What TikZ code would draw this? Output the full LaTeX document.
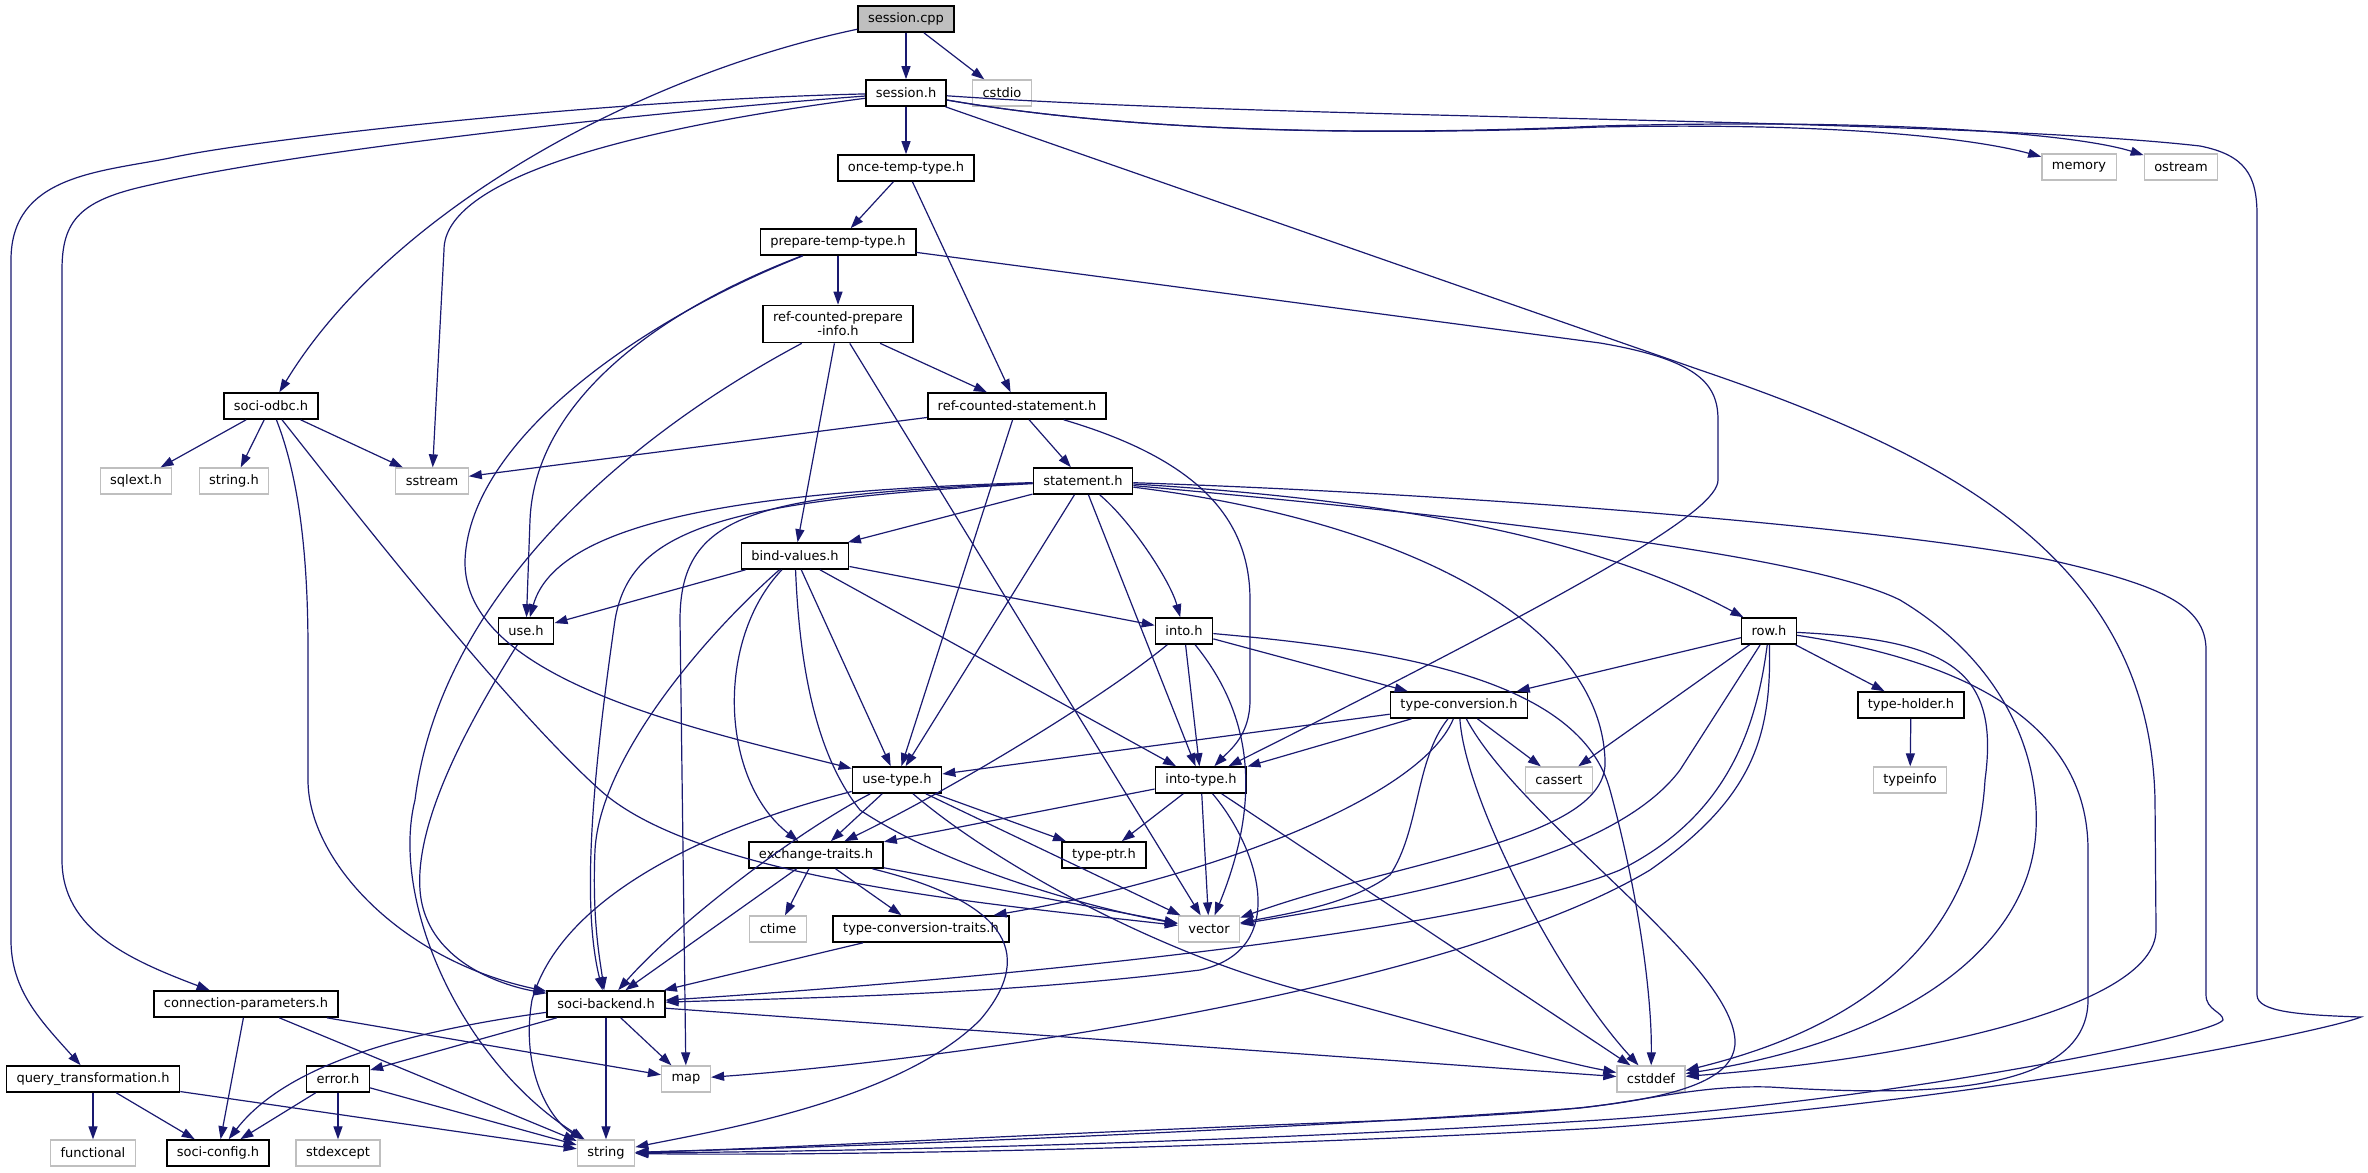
\documentclass[tikz,border=0pt]{standalone}
\usepackage{fontspec}
\setmainfont{DejaVu Sans}
\usetikzlibrary{arrows.meta}
\definecolor{depblue}{RGB}{25,25,112}
\definecolor{extgray}{RGB}{191,191,191}
\begin{document}
\begin{tikzpicture}[x=1pt,y=-1pt,
    hdr/.style={draw=black,line width=1.6pt,fill=white,minimum height=26pt,inner xsep=10pt,inner ysep=6.5pt,align=center,font=\fontsize{13pt}{14pt}\selectfont},
    sys/.style={hdr,draw=extgray,line width=1.3pt},
    dep/.style={draw=depblue,line width=1.2pt,-{Triangle[length=13pt,width=9pt]}}]
    \useasboundingbox (0,0) rectangle (2368,1172);

    \node[hdr,fill=extgray] (sessioncpp) at (906,19) {session.cpp};
    \node[hdr] (sessionh) at (906,93) {session.h};
    \node[sys] (cstdio) at (1002,93) {cstdio};
    \node[sys] (memory) at (2079,167) {memory};
    \node[sys] (ostream) at (2181,167) {ostream};
    \node[hdr] (oncetemp) at (906,168) {once-temp-type.h};
    \node[hdr] (preptemp) at (838,242) {prepare-temp-type.h};
    \node[hdr] (rcprepare) at (838,324) {ref-counted-prepare\\-info.h};
    \node[hdr] (sociodbc) at (271,406) {soci-odbc.h};
    \node[hdr] (rcstmt) at (1017,406) {ref-counted-statement.h};
    \node[sys] (sqlext) at (136,481) {sqlext.h};
    \node[sys] (stringh) at (234,481) {string.h};
    \node[sys] (sstream) at (432,481) {sstream};
    \node[hdr] (statement) at (1083,481) {statement.h};
    \node[hdr] (bindvalues) at (795,556) {bind-values.h};
    \node[hdr] (useh) at (526,631) {use.h};
    \node[hdr] (intoh) at (1184,631) {into.h};
    \node[hdr] (rowh) at (1769,631) {row.h};
    \node[hdr] (typeconv) at (1459,705) {type-conversion.h};
    \node[hdr] (typeholder) at (1911,705) {type-holder.h};
    \node[hdr] (usetype) at (897,780) {use-type.h};
    \node[hdr] (intotype) at (1201,780) {into-type.h};
    \node[sys] (cassert) at (1559,780) {cassert};
    \node[sys] (typeinfo) at (1910,780) {typeinfo};
    \node[hdr] (exchtraits) at (816,855) {exchange-traits.h};
    \node[hdr] (typeptr) at (1104,855) {type-ptr.h};
    \node[sys] (ctime) at (778,929) {ctime};
    \node[hdr] (convtraits) at (921,929) {type-conversion-traits.h};
    \node[sys] (vector) at (1209,929) {vector};
    \node[hdr] (connparams) at (246,1004) {connection-parameters.h};
    \node[hdr] (backend) at (606,1004) {soci-backend.h};
    \node[hdr] (querytrans) at (93,1079) {query\_transformation.h};
    \node[hdr] (errorh) at (338,1079) {error.h};
    \node[sys] (map) at (686,1079) {map};
    \node[sys] (cstddef) at (1651,1079) {cstddef};
    \node[sys] (functional) at (93,1153) {functional};
    \node[hdr] (sociconfig) at (218,1153) {soci-config.h};
    \node[sys] (stdexcept) at (338,1153) {stdexcept};
    \node[sys] (string) at (606,1153) {string};

    \draw[dep] (sessioncpp) -- (sessionh);
    \draw[dep] (sessioncpp) -- (cstdio);
    \draw[dep] (sessioncpp) .. controls (640,75) and (390,210) .. (sociodbc);

    \draw[dep] (sessionh) -- (oncetemp);
    \draw[dep] (sessionh) .. controls (1150,135) and (1400,135) .. (1600,127) .. controls (1850,122) and (1980,140) .. (memory);
    \draw[dep] (sessionh) .. controls (1150,135) and (1400,135) .. (1600,126) .. controls (1900,118) and (2080,135) .. (ostream);
    \draw[dep] (sessionh) .. controls (1300,120) and (1950,118) .. (2200,146) .. controls (2245,155) and (2257,175) .. (2257,215) -- (2257,995) .. controls (2257,1012) and (2300,1015) .. (2361,1017) .. controls (2330,1030) and (2000,1100) .. (1600,1128) .. controls (1200,1150) and (800,1156) .. (string);
    \draw[dep] (sessionh) -- (1700,370) .. controls (1950,455) and (2150,560) .. (2155,800) -- (2156,930) .. controls (2156,1010) and (1900,1060) .. (cstddef);
    \draw[dep] (sessionh) .. controls (620,130) and (444,180) .. (444,250) -- (sstream);
    \draw[dep] (sessionh) .. controls (650,112) and (300,150) .. (150,185) .. controls (80,200) and (62,220) .. (62,270) -- (62,860) .. controls (62,930) and (130,960) .. (connparams);
    \draw[dep] (sessionh) .. controls (600,100) and (250,140) .. (170,158) .. controls (100,172) and (11,175) .. (11,260) -- (11,940) .. controls (11,990) and (40,1020) .. (querytrans);

    \draw[dep] (oncetemp) -- (preptemp);
    \draw[dep] (oncetemp) -- (rcstmt);

    \draw[dep] (preptemp) -- (rcprepare);
    \draw[dep] (preptemp) .. controls (660,310) and (535,400) .. (530,520) -- (useh);
    \draw[dep] (preptemp) .. controls (640,320) and (470,440) .. (465,560) .. controls (462,680) and (700,730) .. (usetype);
    \draw[dep] (preptemp) -- (1600,343) .. controls (1700,360) and (1718,385) .. (1718,420) -- (1718,480) .. controls (1718,510) and (1600,580) .. (intotype);

    \draw[dep] (rcprepare) -- (rcstmt);
    \draw[dep] (rcprepare) -- (bindvalues);
    \draw[dep] (rcprepare) -- (vector);
    \draw[dep] (rcprepare) .. controls (620,440) and (440,600) .. (415,800) .. controls (390,900) and (460,1060) .. (string);

    \draw[dep] (sociodbc) -- (sqlext);
    \draw[dep] (sociodbc) -- (stringh);
    \draw[dep] (sociodbc) -- (sstream);
    \draw[dep] (sociodbc) .. controls (300,480) and (308,560) .. (308,650) -- (308,780) .. controls (308,860) and (400,960) .. (backend);
    \draw[dep] (sociodbc) .. controls (330,480) and (500,700) .. (600,790) .. controls (700,880) and (1000,905) .. (vector);

    \draw[dep] (rcstmt) -- (statement);
    \draw[dep] (rcstmt) -- (sstream);
    \draw[dep] (rcstmt) -- (usetype);
    \draw[dep] (rcstmt) .. controls (1200,460) and (1250,520) .. (1250,600) -- (1250,700) .. controls (1250,735) and (1230,750) .. (intotype);

    \draw[dep] (statement) -- (bindvalues);
    \draw[dep] (statement) .. controls (800,490) and (560,510) .. (useh);
    \draw[dep] (statement) .. controls (720,500) and (630,530) .. (615,620) .. controls (595,760) and (580,900) .. (backend);
    \draw[dep] (statement) .. controls (760,495) and (680,510) .. (680,620) -- (map);
    \draw[dep] (statement) -- (usetype);
    \draw[dep] (statement) -- (intotype);
    \draw[dep] (statement) .. controls (1130,520) and (1170,580) .. (intoh);
    \draw[dep] (statement) .. controls (1400,500) and (1600,540) .. (rowh);
    \draw[dep] (statement) .. controls (1400,520) and (1600,620) .. (1605,760) .. controls (1610,840) and (1400,860) .. (vector);
    \draw[dep] (statement) .. controls (1400,510) and (1800,550) .. (1900,600) .. controls (2000,660) and (2040,750) .. (2036,830) .. controls (2030,950) and (1900,1040) .. (cstddef);
    \draw[dep] (statement) .. controls (1500,495) and (1900,530) .. (2050,560) .. controls (2160,585) and (2206,605) .. (2206,650) -- (2206,995) .. controls (2206,1010) and (2223,1012) .. (2223,1020) .. controls (2215,1035) and (1900,1100) .. (1600,1120) .. controls (1200,1145) and (800,1152) .. (string);

    \draw[dep] (bindvalues) -- (useh);
    \draw[dep] (bindvalues) -- (intoh);
    \draw[dep] (bindvalues) -- (usetype);
    \draw[dep] (bindvalues) -- (intotype);
    \draw[dep] (bindvalues) .. controls (715,640) and (720,780) .. (exchtraits);
    \draw[dep] (bindvalues) .. controls (800,680) and (820,760) .. (860,810) .. controls (950,870) and (1100,910) .. (vector);
    \draw[dep] (bindvalues) .. controls (700,640) and (600,760) .. (595,850) .. controls (592,920) and (600,960) .. (backend);

    \draw[dep] (useh) .. controls (470,720) and (415,820) .. (420,890) .. controls (425,960) and (500,985) .. (backend);

    \draw[dep] (intoh) -- (typeconv);
    \draw[dep] (intoh) -- (intotype);
    \draw[dep] (intoh) .. controls (1100,700) and (950,790) .. (exchtraits);
    \draw[dep] (intoh) .. controls (1240,700) and (1270,780) .. (vector);
    \draw[dep] (intoh) .. controls (1400,650) and (1580,680) .. (1610,790) .. controls (1640,900) and (1652,1000) .. (cstddef);

    \draw[dep] (rowh) -- (typeconv);
    \draw[dep] (rowh) -- (typeholder);
    \draw[dep] (rowh) -- (cassert);
    \draw[dep] (rowh) -- (1680,770) .. controls (1620,850) and (1450,890) .. (vector);
    \draw[dep] (rowh) .. controls (1755,740) and (1720,820) .. (1620,870) .. controls (1450,940) and (900,985) .. (backend);
    \draw[dep] (rowh) .. controls (1772,740) and (1750,800) .. (1650,870) .. controls (1450,990) and (950,1060) .. (map);
    \draw[dep] (rowh) .. controls (1950,640) and (2000,670) .. (1985,780) .. controls (1975,950) and (1850,1030) .. (cstddef);
    \draw[dep] (rowh) .. controls (1960,660) and (2088,720) .. (2088,850) -- (2088,1000) .. controls (2088,1100) and (1900,1095) .. (1770,1087) .. controls (1700,1085) and (1650,1100) .. (1580,1108) .. controls (1200,1135) and (800,1148) .. (string);

    \draw[dep] (typeconv) -- (usetype);
    \draw[dep] (typeconv) -- (intotype);
    \draw[dep] (typeconv) -- (cassert);
    \draw[dep] (typeconv) .. controls (1420,800) and (1200,880) .. ([xshift=-16pt]convtraits.north east);
    \draw[dep] (typeconv) .. controls (1415,760) and (1420,830) .. (1390,875) .. controls (1350,905) and (1280,915) .. (vector);
    \draw[dep] (typeconv) .. controls (1465,800) and (1560,980) .. (cstddef);
    \draw[dep] (typeconv) .. controls (1520,820) and (1730,960) .. (1735,1040) .. controls (1738,1100) and (1600,1110) .. (1400,1120) .. controls (1000,1135) and (800,1148) .. (string);

    \draw[dep] (typeholder) -- (typeinfo);

    \draw[dep] (usetype) -- (exchtraits);
    \draw[dep] (usetype) -- (typeptr);
    \draw[dep] (usetype) -- (vector);
    \draw[dep] (usetype) .. controls (800,830) and (680,920) .. (backend);
    \draw[dep] (usetype) .. controls (990,860) and (1150,950) .. (1300,990) .. controls (1450,1030) and (1550,1060) .. (cstddef);
    \draw[dep] (usetype) .. controls (700,830) and (560,900) .. (532,1000) .. controls (520,1070) and (550,1120) .. (string);

    \draw[dep] (intotype) -- (exchtraits);
    \draw[dep] (intotype) -- (typeptr);
    \draw[dep] (intotype) -- (vector);
    \draw[dep] (intotype) .. controls (1260,850) and (1290,950) .. (1200,970) .. controls (1000,995) and (800,998) .. (backend);
    \draw[dep] (intotype) -- (cstddef);

    \draw[dep] (exchtraits) -- (ctime);
    \draw[dep] (exchtraits) -- (convtraits);
    \draw[dep] (exchtraits) -- (vector);
    \draw[dep] (exchtraits) -- (backend);
    \draw[dep] (exchtraits) .. controls (1000,900) and (1040,950) .. (980,1020) .. controls (900,1100) and (720,1130) .. (string);

    \draw[dep] (convtraits) -- (backend);

    \draw[dep] (backend) -- (errorh);
    \draw[dep] (backend) -- (map);
    \draw[dep] (backend) -- (string);
    \draw[dep] (backend) -- (cstddef);
    \draw[dep] (backend) .. controls (420,1030) and (290,1060) .. (sociconfig);

    \draw[dep] (connparams) -- (sociconfig);
    \draw[dep] (connparams) -- (string);
    \draw[dep] (connparams) -- (map);

    \draw[dep] (querytrans) -- (functional);
    \draw[dep] (querytrans) -- (sociconfig);
    \draw[dep] (querytrans) -- (string);

    \draw[dep] (errorh) -- (sociconfig);
    \draw[dep] (errorh) -- (stdexcept);
    \draw[dep] (errorh) -- (string);
\end{tikzpicture}
\end{document}
